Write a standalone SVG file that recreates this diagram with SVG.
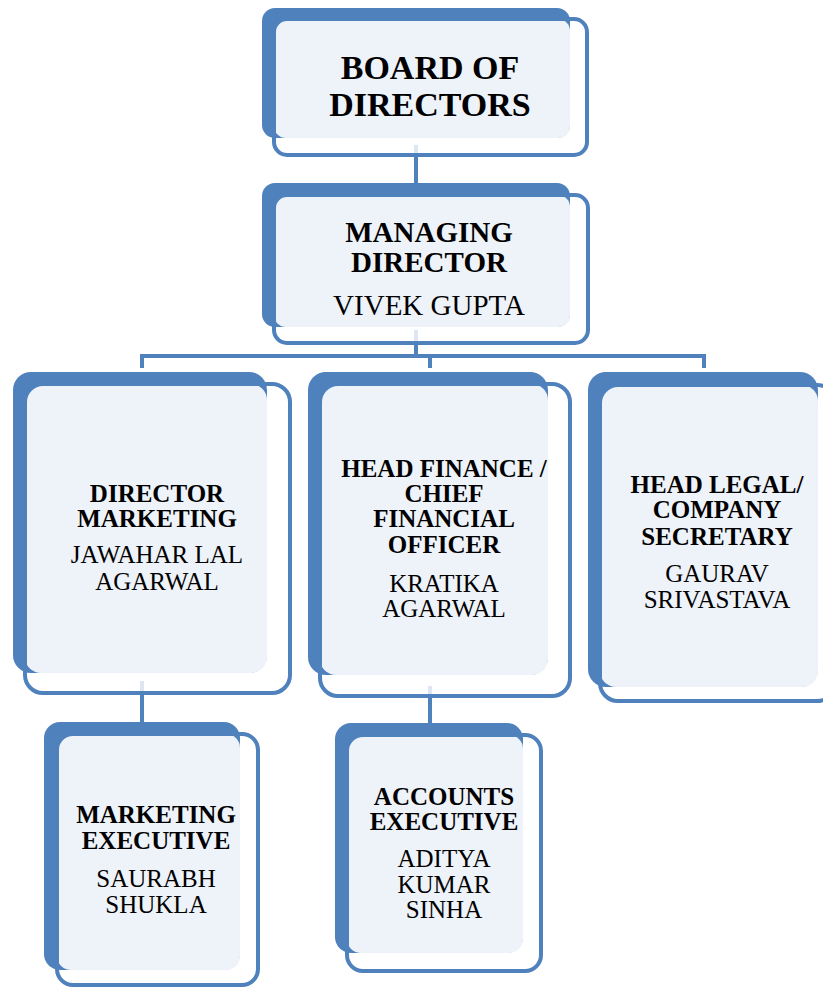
<svg xmlns="http://www.w3.org/2000/svg" width="823" height="988" viewBox="0 0 823 988">
<style>
.back{fill:#4F81BD}
.fill{fill:#EEF2F9}
.frame{fill:none;stroke:#4F81BD;stroke-width:4}
.b{font-family:"Liberation Serif","Times New Roman",serif;font-weight:bold;fill:#000;text-anchor:middle}
.r{font-family:"Liberation Serif","Times New Roman",serif;fill:#000;text-anchor:middle}
.t1{font-size:34px}
.t2{font-size:29px}
.t3{font-size:25px}
.con{stroke:#4F81BD;stroke-width:4;fill:none}
.faint{stroke:#DDE6F2;stroke-width:4;fill:none}
</style>
<rect width="823" height="988" fill="#fff"/>
<g id="connectors">
<line class="faint" x1="416" y1="145" x2="416" y2="155"/>
<line class="con" x1="416" y1="157" x2="416" y2="185"/>
<line class="faint" x1="416" y1="330" x2="416" y2="343"/>
<line class="con" x1="416" y1="345" x2="416" y2="356"/>
<line class="con" x1="142" y1="356" x2="704" y2="356"/>
<line class="con" x1="142" y1="354" x2="142" y2="368"/>
<line class="con" x1="430" y1="356" x2="430" y2="368"/>
<line class="con" x1="704" y1="354" x2="704" y2="368"/>
<line class="faint" x1="142" y1="681" x2="142" y2="693"/>
<line class="con" x1="142" y1="695" x2="142" y2="724"/>
<line class="faint" x1="430" y1="686" x2="430" y2="696"/>
<line class="con" x1="430" y1="698" x2="430" y2="725"/>
</g>
<g id="board">
<rect class="back" x="262" y="8" width="308" height="130" rx="13"/>
<rect class="fill" x="274" y="19" width="296" height="119" rx="12"/>
<rect class="frame" x="274" y="19" width="313" height="136" rx="13"/>
<text class="b t1" x="430" y="79">BOARD OF</text>
<text class="b t1" x="430" y="116">DIRECTORS</text>
</g>
<g id="md">
<rect class="back" x="262" y="183" width="308" height="144" rx="13"/>
<rect class="fill" x="274" y="195" width="296" height="132" rx="12"/>
<rect class="frame" x="274" y="195" width="314" height="148" rx="13"/>
<text class="b t2" x="429" y="242">MANAGING</text>
<text class="b t2" x="429" y="272">DIRECTOR</text>
<text class="r t2" x="429" y="315">VIVEK GUPTA</text>
</g>
<g id="dir-marketing">
<rect class="back" x="13" y="372" width="254" height="301" rx="18"/>
<rect class="fill" x="25" y="384" width="242" height="289" rx="16"/>
<rect class="frame" x="25" y="384" width="265" height="309" rx="18"/>
<text class="b t3" x="157" y="502">DIRECTOR</text>
<text class="b t3" x="157" y="527">MARKETING</text>
<text class="r t3" x="157" y="563">JAWAHAR LAL</text>
<text class="r t3" x="157" y="590">AGARWAL</text>
</g>
<g id="head-finance">
<rect class="back" x="308" y="372" width="240" height="303" rx="18"/>
<rect class="fill" x="320" y="384" width="228" height="291" rx="16"/>
<rect class="frame" x="320" y="384" width="250" height="312" rx="18"/>
<text class="b t3" x="444" y="477">HEAD FINANCE /</text>
<text class="b t3" x="444" y="502">CHIEF</text>
<text class="b t3" x="444" y="527">FINANCIAL</text>
<text class="b t3" x="444" y="553">OFFICER</text>
<text class="r t3" x="444" y="592">KRATIKA</text>
<text class="r t3" x="444" y="617">AGARWAL</text>
</g>
<g id="head-legal">
<rect class="back" x="588" y="372" width="230" height="315" rx="18"/>
<rect class="fill" x="600" y="385" width="218" height="302" rx="16"/>
<rect class="frame" x="600" y="385" width="235" height="316" rx="18"/>
<text class="b t3" x="717" y="493">HEAD LEGAL/</text>
<text class="b t3" x="717" y="518">COMPANY</text>
<text class="b t3" x="717" y="545">SECRETARY</text>
<text class="r t3" x="717" y="582">GAURAV</text>
<text class="r t3" x="717" y="608">SRIVASTAVA</text>
</g>
<g id="marketing-exec">
<rect class="back" x="44" y="722" width="196" height="248" rx="16"/>
<rect class="fill" x="57" y="734" width="183" height="236" rx="14"/>
<rect class="frame" x="57" y="734" width="201" height="251" rx="16"/>
<text class="b t3" x="156" y="823">MARKETING</text>
<text class="b t3" x="156" y="849">EXECUTIVE</text>
<text class="r t3" x="156" y="887">SAURABH</text>
<text class="r t3" x="156" y="913">SHUKLA</text>
</g>
<g id="accounts-exec">
<rect class="back" x="335" y="723" width="188" height="230" rx="16"/>
<rect class="fill" x="347" y="735" width="176" height="218" rx="14"/>
<rect class="frame" x="347" y="735" width="194" height="236" rx="16"/>
<text class="b t3" x="444" y="805">ACCOUNTS</text>
<text class="b t3" x="444" y="830">EXECUTIVE</text>
<text class="r t3" x="444" y="867">ADITYA</text>
<text class="r t3" x="444" y="893">KUMAR</text>
<text class="r t3" x="444" y="918">SINHA</text>
</g>
</svg>
